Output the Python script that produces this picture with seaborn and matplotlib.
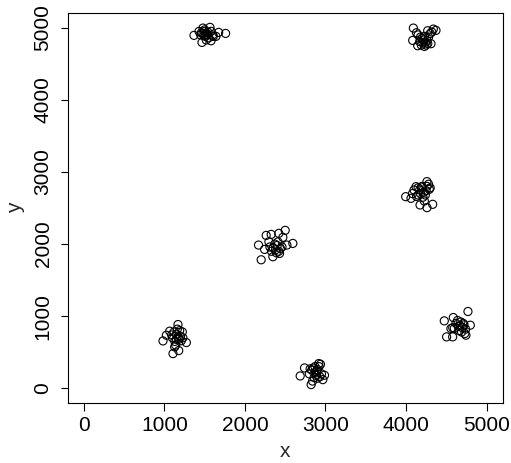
import matplotlib
matplotlib.use("Agg")
import matplotlib.pyplot as plt
import seaborn as sns
import pandas as pd

# Cluster points
c1_x = [1368, 1430, 1467, 1479, 1521, 1566, 1579, 1607, 1674, 1760, 1480, 1500, 1510, 1530, 1550,
        1490, 1460, 1540, 1600, 1520, 1640, 1580, 1450, 1500]
c1_y = [4894, 4949, 4796, 4995, 4926, 5005, 4819, 4880, 4935, 4921, 4920, 4950, 4880, 4900, 4860,
        4890, 4930, 4940, 4900, 4830, 4880, 4950, 4900, 4970]

c2_x = [4091, 4083, 4145, 4227, 4310, 4339, 4372, 4269, 4150, 4180, 4200, 4220, 4240, 4260, 4280,
        4230, 4210, 4250, 4300, 4320, 4130, 4170, 4270, 4190]
c2_y = [4995, 4824, 4750, 4741, 4778, 4981, 4963, 4958, 4900, 4870, 4850, 4830, 4800, 4820, 4870,
        4880, 4790, 4760, 4920, 4940, 4930, 4810, 4780, 4760]

c3_x = [3996, 4062, 4174, 4260, 4331, 4227, 4260, 4289, 4124, 4100, 4150, 4180, 4200, 4220, 4240,
        4260, 4280, 4150, 4130, 4300, 4210, 4080, 4170, 4250, 4190]
c3_y = [2657, 2634, 2542, 2505, 2551, 2597, 2866, 2759, 2796, 2750, 2780, 2700, 2800, 2720, 2680,
        2800, 2830, 2680, 2660, 2780, 2650, 2700, 2750, 2740, 2790]

c4_x = [2169, 2202, 2347, 2264, 2326, 2500, 2595, 2471, 2421, 2521, 2430, 2244, 2298, 2350, 2380,
        2400, 2420, 2370, 2440, 2330, 2460, 2390, 2310, 2410]
c4_y = [1986, 1782, 1824, 2120, 2134, 2190, 2009, 2093, 2148, 1986, 1870, 1926, 2032, 1950, 1920,
        1980, 1900, 2000, 1940, 1900, 1960, 1880, 1960, 2030]

c5_x = [983, 1107, 1178, 1273, 1169, 1066, 1025, 1223, 1128, 1100, 1150, 1180, 1130, 1200, 1160,
        1120, 1210, 1140, 1170, 1090, 1190, 1150, 1230]
c5_y = [657, 481, 523, 634, 884, 792, 736, 782, 574, 700, 750, 680, 650, 720, 820,
        780, 660, 600, 710, 740, 800, 680, 700]

c6_x = [2686, 2740, 2822, 2917, 2938, 2967, 2988, 2800, 2830, 2850, 2870, 2880, 2900, 2920, 2860,
        2840, 2890, 2810, 2950, 2930, 2870, 2900]
c6_y = [171, 282, 51, 343, 333, 120, 181, 200, 250, 280, 220, 180, 260, 300, 150,
        100, 230, 270, 200, 160, 300, 140]

c7_x = [4475, 4504, 4579, 4587, 4769, 4798, 4744, 4558, 4620, 4650, 4680, 4700, 4720, 4660, 4640,
        4690, 4710, 4600, 4740, 4670, 4730, 4580]
c7_y = [935, 713, 713, 981, 1065, 875, 736, 829, 900, 860, 920, 840, 880, 800, 940,
        780, 900, 830, 820, 870, 760, 840]

x_ticks = [0, 1000, 2000, 3000, 4000, 5000]
y_ticks = [0, 1000, 2000, 3000, 4000, 5000]

xs = c1_x + c2_x + c3_x + c4_x + c5_x + c6_x + c7_x
ys = c1_y + c2_y + c3_y + c4_y + c5_y + c6_y + c7_y
df = pd.DataFrame({"x": xs, "y": ys})

sns.set_style("ticks")
plt.rcParams["font.family"] = ["Liberation Sans", "DejaVu Sans"]

fig = plt.figure(figsize=(5.11, 4.63), dpi=100)
ax = fig.add_axes([0.1325, 0.1302, 0.9837 - 0.1325, 0.9713 - 0.1302])

sns.scatterplot(data=df, x="x", y="y", ax=ax, marker="o", s=34,
                facecolor="none", edgecolor="black", linewidth=0.8)

ax.set_xlim(-200, 5200)
ax.set_ylim(-200, 5200)
ax.set_xticks(x_ticks)
ax.set_yticks(y_ticks)
ax.set_xticklabels([str(t) for t in x_ticks], fontsize=15)
ax.set_yticklabels([str(t) for t in y_ticks], fontsize=15, rotation=90, va="center")
ax.tick_params(axis="both", direction="out", length=5.4, width=0.8, color="black", labelcolor="black")
ax.tick_params(axis="x", pad=4.5)
ax.tick_params(axis="y", pad=5.5)
for sp in ax.spines.values():
    sp.set_visible(True)
    sp.set_linewidth(0.8)
    sp.set_color("black")
ax.set_xlabel("x", fontsize=15, labelpad=5)
ax.set_ylabel("y", fontsize=15, labelpad=6)

fig.savefig("out.png", dpi=100)
